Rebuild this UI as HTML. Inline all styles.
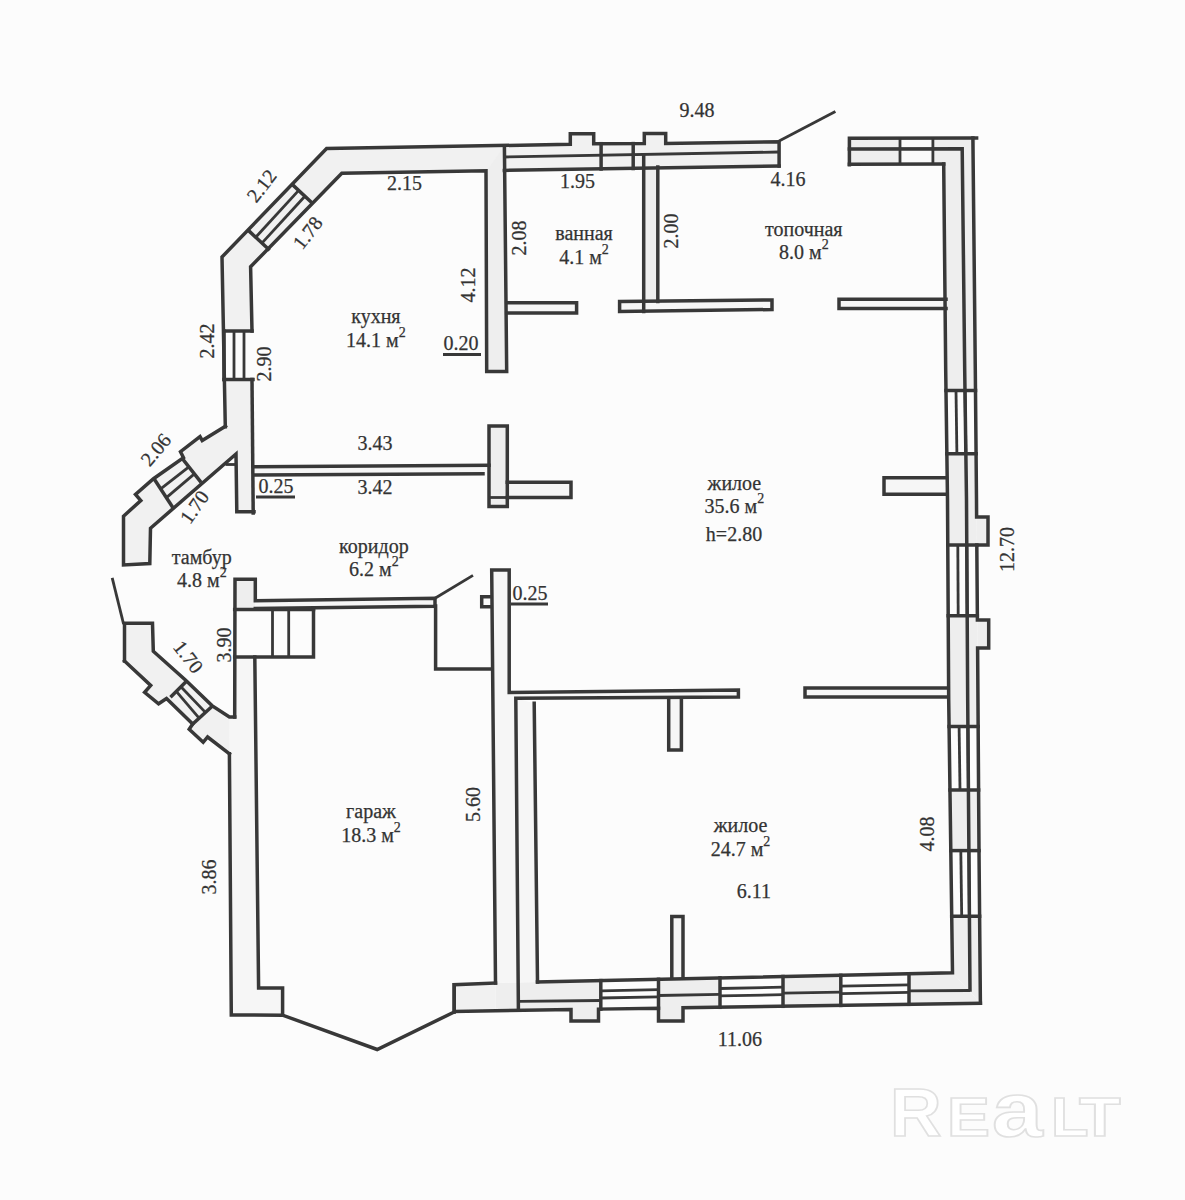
<!DOCTYPE html>
<html><head><meta charset="utf-8">
<style>
html,body{margin:0;padding:0;background:#fcfcfc;}
svg{display:block;}
.l{fill:none;stroke:#383838;stroke-width:3.5;stroke-linejoin:miter;stroke-linecap:square;}
.t{stroke:#383838;stroke-width:2.8;fill:none;}
.f{fill:#eeeeee;stroke:none;}
.fw{fill:#f6f6f6;stroke:none;}
.fm{fill:#f1f1f1;stroke:none;}
text{font-family:"Liberation Serif",serif;font-size:20px;fill:#333;stroke:#333;stroke-width:0.25px;}
</style></head><body>
<svg width="1185" height="1200" viewBox="0 0 1185 1200">
<rect width="1185" height="1200" fill="#fcfcfc"/>
<g>
<polygon class="fm" points="222.0,257.0 326.6,148.6 486.0,145.5 504.4,145.0 504.4,169.0 486.0,170.8 341.8,173.2 250.6,266.8 252.0,331.0 224.0,331.0"/>
<polygon class="fm" points="224.0,379.5 252.0,379.5 253.0,465.0 236.7,465.0 236.7,513.0 253.2,513.0 254.0,465.0 225.3,427.0"/>
<polygon class="f" points="486.0,172.0 504.4,146.0 506.7,371.4 486.7,371.4"/>
<polygon class="fm" points="504.4,146.0 570.3,144.3 570.3,133.7 593.7,133.7 593.7,143.7 644.3,143.5 644.3,133.5 665.7,133.5 665.7,143.5 779.1,141.8 779.1,166.0 504.4,170.4"/>
<polygon class="f" points="643.7,167.0 657.8,167.0 657.8,302.0 643.7,302.0"/>
<polygon class="fw" points="506.7,302.8 576.6,302.8 576.6,313.0 506.7,313.0"/>
<polygon class="fw" points="619.6,301.5 772.0,300.0 772.0,309.5 619.6,311.6"/>
<polygon class="fw" points="839.0,299.3 946.0,299.3 946.0,308.6 839.0,308.6"/>
<polygon class="f" points="849.4,138.2 976.0,138.2 973.0,164.0 943.7,164.0 849.4,164.3"/>
<polygon fill="#fafafa" points="901.0,139.5 932.0,139.5 932.0,163.5 901.0,163.5"/>
<polygon class="f" points="943.7,163.0 972.9,138.0 975.3,370.0 976.5,500.0 979.0,850.0 980.4,1003.0 952.5,972.8 948.7,700.0 947.5,500.0 945.7,370.0"/>
<polygon fill="#fcfcfc" points="947.0,391.5 974.5,391.5 975.1,452.8 947.9,452.8"/>
<polygon fill="#fcfcfc" points="948.8,546.0 975.8,546.0 976.3,614.8 949.2,614.8"/>
<polygon fill="#fcfcfc" points="950.1,727.6 977.1,727.6 977.6,789.0 951.0,789.0"/>
<polygon fill="#fcfcfc" points="951.8,851.6 978.0,851.6 978.6,915.3 952.7,915.3"/>
<polygon class="f" points="976.6,517.0 988.0,517.0 988.0,545.0 976.8,545.0"/>
<polygon class="f" points="977.4,620.0 988.7,620.0 988.7,648.0 977.6,648.0"/>
<polygon class="fw" points="884.0,477.8 946.0,477.8 946.0,494.3 884.0,494.3"/>
<polygon class="fw" points="805.0,688.0 948.0,688.0 948.0,697.0 805.0,697.0"/>
<polygon class="f" points="495.5,983.0 537.5,982.0 952.5,972.8 980.4,1003.2 495.5,1011.0"/>
<polygon class="fm" points="454.2,984.7 495.5,983.0 495.5,1011.0 454.2,1012.0"/>
<polygon class="fw" points="515.8,698.3 534.2,703.3 537.5,982.0 495.5,983.0 491.7,570.0 509.2,570.0 509.2,692.5"/>
<polygon fill="#fcfcfc" points="601.8,981.6 657.5,980.3 657.5,1007.2 601.8,1008.1"/>
<polygon fill="#fcfcfc" points="721.0,978.9 782.0,977.5 782.0,1005.3 721.0,1006.3"/>
<polygon fill="#fcfcfc" points="841.8,976.3 908.0,974.8 908.0,1003.3 841.8,1004.4"/>
<polygon class="f" points="571.0,1007.6 571.0,1021.0 598.5,1021.0 598.5,1007.1"/>
<polygon class="f" points="658.5,1006.2 658.5,1021.0 683.0,1021.0 683.0,1005.8"/>
<polygon class="fw" points="671.8,916.5 683.0,916.5 683.0,980.0 671.8,980.0"/>
<polygon class="fw" points="509.2,692.5 738.4,690.0 738.4,697.0 515.8,698.3"/>
<polygon class="fw" points="668.7,698.0 681.4,698.0 681.4,750.0 668.7,750.0"/>
<polygon class="fw" points="229.4,717.0 234.7,717.0 234.7,657.0 254.8,659.2 258.6,988.0 282.6,988.0 282.6,1015.2 231.3,1015.0 229.4,753.7"/>
<polygon class="f" points="235.0,579.2 255.3,579.2 255.3,609.6 235.0,609.6"/>
<polygon class="fw" points="255.3,600.8 435.0,598.2 435.0,606.3 255.3,608.4"/>
<polygon class="fm" points="124.5,623.3 152.5,623.3 153.3,651.3 185.7,680.2 212.0,705.6 229.4,717.0 229.4,753.7 229.4,753.7 207.6,737.0 203.2,742.3 189.2,729.2 192.7,724.0 166.5,698.6 158.6,703.8 144.6,692.4 150.7,685.4 124.5,661.0"/>
<polygon class="fm" points="225.5,426.2 202.2,440.5 200.0,436.7 180.5,451.7 183.5,457.7 153.5,478.7 135.5,494.5 140.8,500.5 123.5,516.2 123.5,565.0 149.8,563.5 150.5,528.2 236.0,454.0 236.8,511.8 254.0,511.8 252.5,420.0"/>
<polygon class="fw" points="255.2,466.8 489.0,465.2 483.0,473.7 255.2,475.0"/>
<polygon class="f" points="489.0,426.0 507.3,426.0 507.3,506.6 489.0,506.6"/>
<polygon class="fw" points="507.3,482.3 571.0,482.3 571.0,497.5 507.3,497.5"/>
</g>
<g>
<polyline class="l" points="225.3,426.8 222.0,257.0 326.6,148.6 570.3,144.3 570.3,133.7 593.7,133.7 593.7,143.7 644.3,143.5 644.3,133.5 665.7,133.5 665.7,143.5 779.1,141.8 779.1,166.0" />
<polyline class="l" points="252.0,331.0 250.6,266.8 341.8,173.2 486.0,170.8 486.7,371.4 506.7,371.4 504.4,146.0" />
<polyline class="l" points="224.0,331.0 252.0,331.0" />
<polyline class="l" points="224.0,379.5 253.0,379.5" />
<line class="t" x1="234.0" y1="331.0" x2="234.0" y2="379.5" />
<line class="t" x1="244.0" y1="331.0" x2="244.0" y2="379.5" />
<line class="l" x1="224.0" y1="331.0" x2="224.0" y2="379.5" />
<line class="l" x1="252.0" y1="379.5" x2="253.2" y2="513.0" />
<polyline class="l" points="292.4,184.6 311.4,202.3" />
<polyline class="l" points="249.4,231.4 268.4,249.1" />
<line class="t" x1="298.7" y1="190.4" x2="255.7" y2="237.2" />
<line class="t" x1="304.9" y1="196.3" x2="261.9" y2="243.1" />
<line class="t" x1="504.4" y1="157.0" x2="779.1" y2="152.0" />
<line class="l" x1="504.4" y1="170.4" x2="779.1" y2="166.0" />
<line class="l" x1="601.1" y1="143.7" x2="601.1" y2="169.0" />
<line class="l" x1="633.2" y1="143.6" x2="633.2" y2="168.5" />
<polyline class="l" points="643.7,156.0 643.7,311.6" />
<polyline class="l" points="657.8,167.0 657.8,301.5" />
<polyline class="l" points="506.7,302.8 576.6,302.8 576.6,313.0 506.7,313.0" />
<polygon class="l" points="619.6,301.5 772.0,300.0 772.0,309.5 619.6,311.6" />
<polyline class="l" points="946.0,299.3 839.0,299.3 839.0,308.6 946.0,308.6" />
<line class="t" x1="779.1" y1="141.0" x2="835.4" y2="111.6" />
<polyline class="l" points="849.4,164.8 849.4,138.2 976.6,138.1" />
<polyline class="l" points="849.4,164.3 943.7,164.1" />
<line class="t" x1="900.0" y1="138.2" x2="900.0" y2="164.8" />
<line class="t" x1="932.9" y1="138.2" x2="932.9" y2="164.8" />
<polyline class="l" points="849.4,149.0 962.2,148.8 964.7,370.0 966.5,500.0 967.7,700.0 970.0,990.0" />
<polyline class="l" points="972.9,138.0 975.3,370.0 976.5,500.0 976.6,517.0 988.0,517.0 988.0,545.0 976.8,545.0 977.4,620.0 988.7,620.0 988.7,648.0 977.6,648.0 979.0,850.0 980.4,1003.2" />
<polyline class="l" points="943.7,164.1 945.7,370.0 947.5,500.0 948.7,700.0 952.5,972.8 537.5,982.0" />
<line class="l" x1="946.0" y1="390.5" x2="975.5" y2="390.5" />
<line class="l" x1="946.9" y1="453.8" x2="976.1" y2="453.8" />
<line class="l" x1="947.8" y1="545.0" x2="976.8" y2="545.0" />
<line class="l" x1="948.2" y1="615.8" x2="977.3" y2="615.8" />
<line class="l" x1="949.1" y1="726.6" x2="978.1" y2="726.6" />
<line class="l" x1="950.0" y1="790.0" x2="978.6" y2="790.0" />
<line class="l" x1="950.8" y1="850.6" x2="979.0" y2="850.6" />
<line class="l" x1="951.7" y1="916.3" x2="979.6" y2="916.3" />
<line class="t" x1="956.0" y1="390.5" x2="956.9" y2="453.8" />
<line class="t" x1="965.0" y1="390.5" x2="965.9" y2="453.8" />
<line class="t" x1="957.8" y1="545.0" x2="958.2" y2="615.8" />
<line class="t" x1="966.8" y1="545.0" x2="967.2" y2="615.8" />
<line class="t" x1="959.1" y1="726.6" x2="960.0" y2="790.0" />
<line class="t" x1="967.9" y1="726.6" x2="968.4" y2="790.0" />
<line class="t" x1="960.8" y1="850.6" x2="961.7" y2="916.3" />
<line class="t" x1="968.9" y1="850.6" x2="969.4" y2="916.3" />
<polyline class="l" points="946.0,477.8 884.0,477.8 884.0,494.3 946.0,494.3" />
<polyline class="l" points="948.0,688.0 805.0,688.0 805.0,697.0 948.0,697.0" />
<polyline class="l" points="454.2,984.7 454.2,1011.4 571.0,1009.6 571.0,1021.0 598.5,1021.0 598.5,1009.1 658.5,1008.2 658.5,1021.0 683.0,1021.0 683.0,1007.8 980.4,1003.2" />
<line class="t" x1="519.4" y1="1001.3" x2="600.8" y2="1000.5" />
<line class="t" x1="658.5" y1="995.5" x2="720.0" y2="994.4" />
<line class="t" x1="783.0" y1="993.2" x2="840.8" y2="992.1" />
<line class="t" x1="909.0" y1="990.9" x2="970.0" y2="990.5" />
<line class="l" x1="600.8" y1="980.6" x2="600.8" y2="1009.1" />
<line class="l" x1="658.5" y1="979.3" x2="658.5" y2="1008.2" />
<line class="l" x1="720.0" y1="977.9" x2="720.0" y2="1007.3" />
<line class="l" x1="783.0" y1="976.5" x2="783.0" y2="1006.3" />
<line class="l" x1="840.8" y1="975.3" x2="840.8" y2="1005.4" />
<line class="l" x1="909.0" y1="973.8" x2="909.0" y2="1004.3" />
<line class="t" x1="600.8" y1="990.8" x2="658.5" y2="989.7" />
<line class="t" x1="600.8" y1="998.0" x2="658.5" y2="996.9" />
<line class="t" x1="720.0" y1="988.5" x2="783.0" y2="987.2" />
<line class="t" x1="720.0" y1="995.8" x2="783.0" y2="994.7" />
<line class="t" x1="840.8" y1="986.1" x2="909.0" y2="984.8" />
<line class="t" x1="840.8" y1="993.6" x2="909.0" y2="992.4" />
<polyline class="l" points="671.8,978.0 671.8,916.5 683.0,916.5 683.0,978.0" />
<polyline class="l" points="495.5,983.0 491.7,570.0 509.2,570.0 509.2,692.5 738.4,690.0 738.4,697.0 515.8,698.3 518.4,1010.0" />
<line class="l" x1="534.2" y1="703.3" x2="537.5" y2="982.0" />
<polyline class="l" points="668.7,698.0 668.7,750.0 681.4,750.0 681.4,698.0" />
<polyline class="l" points="490.8,596.7 481.7,596.7 481.7,606.7 490.8,606.7" />
<polyline class="l" points="229.4,753.7 231.3,1015.0 282.6,1015.2 377.2,1049.5 454.2,1012.0" />
<polyline class="l" points="254.8,657.0 258.6,988.0 282.6,988.0 282.6,1015.0" />
<polyline class="l" points="495.5,983.0 454.2,984.7 454.2,1012.0" />
<polyline class="l" points="234.7,717.0 235.0,579.2 255.3,579.2 255.3,600.8 435.0,598.2 435.0,606.3 255.3,608.4" />
<line class="l" x1="234.7" y1="609.6" x2="313.5" y2="609.6" />
<polyline class="l" points="313.5,609.6 313.5,657.0 234.7,657.0" />
<line class="t" x1="272.5" y1="609.6" x2="272.5" y2="657.0" />
<line class="t" x1="288.7" y1="609.6" x2="288.7" y2="657.0" />
<line class="t" x1="435.0" y1="598.2" x2="473.0" y2="575.4" />
<polyline class="l" points="435.6,606.0 435.6,669.0 490.8,669.0" />
<polyline class="l" points="124.5,661.0 124.5,623.3 152.5,623.3 153.3,651.3 185.7,680.2 212.0,705.6 229.4,717.0 234.7,717.0" />
<polyline class="l" points="124.5,661.0 150.7,685.4 144.6,692.4 158.6,703.8 166.5,698.6 192.7,724.0 189.2,729.2 203.2,742.3 207.6,737.0 229.4,753.7" />
<polyline class="l" points="171.7,696.0 185.7,682.0" />
<polyline class="l" points="192.7,724.0 212.0,706.4" />
<line class="t" x1="176.3" y1="691.4" x2="199.1" y2="718.2" />
<line class="t" x1="180.9" y1="686.8" x2="205.4" y2="712.4" />
<line class="t" x1="112.2" y1="577.9" x2="123.6" y2="624.2" />
<polyline class="l" points="225.5,426.2 202.2,440.5 200.0,436.7 180.5,451.7 183.5,457.7 153.5,478.7 135.5,494.5 140.8,500.5 123.5,516.2 123.5,565.0 149.8,563.5 150.5,528.2 236.0,454.0 236.8,511.8 254.0,511.8" />
<polyline class="l" points="155.0,480.2 172.2,506.5" />
<polyline class="l" points="183.5,460.0 200.0,481.0" />
<line class="t" x1="160.7" y1="488.9" x2="188.9" y2="466.9" />
<line class="t" x1="166.4" y1="497.6" x2="194.4" y2="473.9" />
<line class="t" x1="225.5" y1="464.5" x2="236.0" y2="464.5" />
<line class="l" x1="255.2" y1="466.8" x2="489.0" y2="465.2" />
<line class="l" x1="255.2" y1="475.0" x2="483.0" y2="473.7" />
<polygon class="l" points="489.0,426.0 507.3,426.0 507.3,506.6 489.0,506.6" />
<line class="t" x1="489.0" y1="497.5" x2="507.3" y2="497.5" />
<polyline class="l" points="507.3,482.3 571.0,482.3 571.0,497.5 507.3,497.5" />
<line class="t" x1="443.0" y1="354.5" x2="481.0" y2="354.5" />
<line class="t" x1="256.0" y1="497.0" x2="295.0" y2="497.0" />
<line class="t" x1="511.0" y1="604.0" x2="548.0" y2="604.0" />
</g>
<g>
<text x="697" y="117" text-anchor="middle" >9.48</text>
<text x="404.4" y="189.5" text-anchor="middle" >2.15</text>
<text x="577.5" y="187.5" text-anchor="middle" >1.95</text>
<text x="788" y="186" text-anchor="middle" >4.16</text>
<text x="267" y="190" text-anchor="middle" transform="rotate(-52 267 190)" >2.12</text>
<text x="313" y="237" text-anchor="middle" transform="rotate(-52 313 237)" >1.78</text>
<text x="584" y="240.3" text-anchor="middle" >ванная</text><text x="584" y="263.8" text-anchor="middle" >4.1 м<tspan dy="-10" style="font-size:14px">2</tspan></text>
<text x="803.8" y="236.3" text-anchor="middle" >топочная</text><text x="803.8" y="259.2" text-anchor="middle" >8.0 м<tspan dy="-10" style="font-size:14px">2</tspan></text>
<text x="525.5" y="238" text-anchor="middle" transform="rotate(-90 525.5 238)" >2.08</text>
<text x="677.5" y="231" text-anchor="middle" transform="rotate(-90 677.5 231)" >2.00</text>
<text x="475" y="285" text-anchor="middle" transform="rotate(-90 475 285)" >4.12</text>
<text x="375.9" y="322.6" text-anchor="middle" >кухня</text><text x="375.9" y="346.6" text-anchor="middle" >14.1 м<tspan dy="-10" style="font-size:14px">2</tspan></text>
<text x="461" y="350" text-anchor="middle" >0.20</text>
<text x="214" y="341" text-anchor="middle" transform="rotate(-90 214 341)" >2.42</text>
<text x="271" y="364" text-anchor="middle" transform="rotate(-90 271 364)" >2.90</text>
<text x="161" y="454" text-anchor="middle" transform="rotate(-50 161 454)" >2.06</text>
<text x="200" y="511" text-anchor="middle" transform="rotate(-55 200 511)" >1.70</text>
<text x="375" y="450" text-anchor="middle" >3.43</text>
<text x="375" y="494" text-anchor="middle" >3.42</text>
<text x="276" y="493" text-anchor="middle" >0.25</text>
<text x="734.4" y="489.6" text-anchor="middle" >жилое</text><text x="734.4" y="512.5" text-anchor="middle" >35.6 м<tspan dy="-10" style="font-size:14px">2</tspan></text>
<text x="734" y="540.6" text-anchor="middle" >h=2.80</text>
<text x="1014" y="549.5" text-anchor="middle" transform="rotate(-90 1014 549.5)" >12.70</text>
<text x="201.8" y="563.6" text-anchor="middle" >тамбур</text><text x="201.8" y="586.6" text-anchor="middle" >4.8 м<tspan dy="-10" style="font-size:14px">2</tspan></text>
<text x="373.9" y="552.8" text-anchor="middle" >коридор</text><text x="373.9" y="575.6" text-anchor="middle" >6.2 м<tspan dy="-10" style="font-size:14px">2</tspan></text>
<text x="530" y="600" text-anchor="middle" >0.25</text>
<text x="231" y="645" text-anchor="middle" transform="rotate(-90 231 645)" >3.90</text>
<text x="183" y="661" text-anchor="middle" transform="rotate(52 183 661)" >1.70</text>
<text x="371" y="818.3" text-anchor="middle" >гараж</text><text x="371" y="841.6" text-anchor="middle" >18.3 м<tspan dy="-10" style="font-size:14px">2</tspan></text>
<text x="479.5" y="804.5" text-anchor="middle" transform="rotate(-90 479.5 804.5)" >5.60</text>
<text x="216" y="877" text-anchor="middle" transform="rotate(-90 216 877)" >3.86</text>
<text x="740.5" y="832.1" text-anchor="middle" >жилое</text><text x="740.5" y="855.7" text-anchor="middle" >24.7 м<tspan dy="-10" style="font-size:14px">2</tspan></text>
<text x="934" y="834" text-anchor="middle" transform="rotate(-90 934 834)" >4.08</text>
<text x="753.8" y="897.7" text-anchor="middle" >6.11</text>
<text x="740" y="1045.5" text-anchor="middle" >11.06</text>
<g style="font-family:'Liberation Sans',sans-serif;font-weight:bold;fill:#ffffff;stroke:#e3e3e3;stroke-width:1.6"><text x="0" y="0" transform="translate(890 1136) scale(1.05 1)" style="font-family:'Liberation Sans',sans-serif;font-weight:bold;fill:#ffffff;stroke:#e0e0e0;stroke-width:1.6;font-size:68px">R</text><text x="0" y="0" transform="translate(947 1136) scale(1.17 1)" style="font-family:'Liberation Sans',sans-serif;font-weight:bold;fill:#ffffff;stroke:#e0e0e0;stroke-width:1.6;font-size:55px">E</text><text x="0" y="0" transform="translate(992 1136) scale(1.2 1)" style="font-family:'Liberation Sans',sans-serif;font-weight:bold;fill:#ffffff;stroke:#e0e0e0;stroke-width:1.6;font-size:76px">a</text><text x="0" y="0" transform="translate(1051 1136) scale(1.12 1)" style="font-family:'Liberation Sans',sans-serif;font-weight:bold;fill:#ffffff;stroke:#e0e0e0;stroke-width:1.6;font-size:55px">L</text><text x="0" y="0" transform="translate(1079 1136) scale(1.24 1)" style="font-family:'Liberation Sans',sans-serif;font-weight:bold;fill:#ffffff;stroke:#e0e0e0;stroke-width:1.6;font-size:55px">T</text></g>
</g>
</svg>
</body></html>
